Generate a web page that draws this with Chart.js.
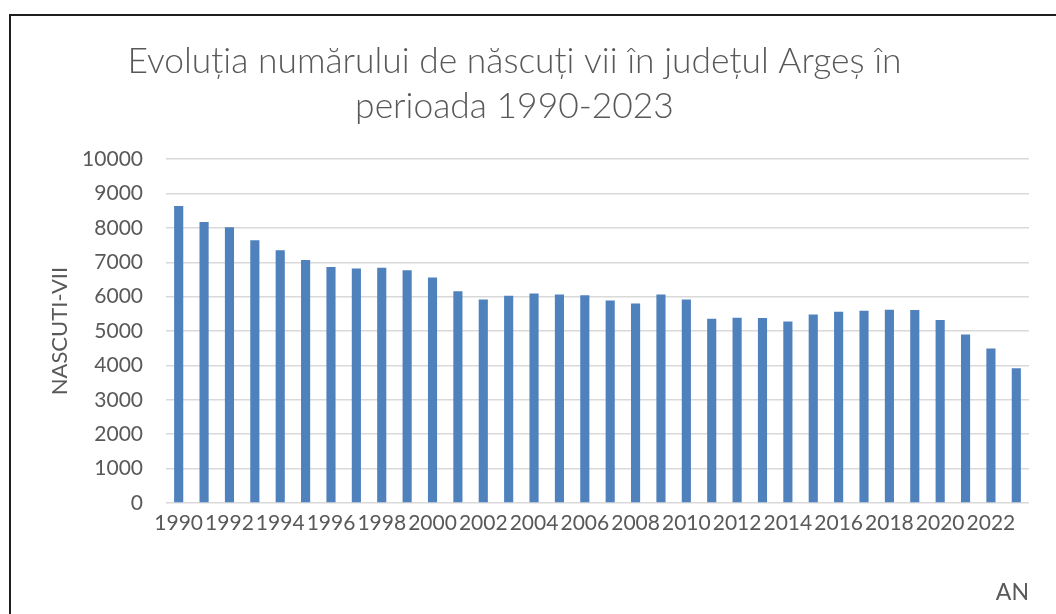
<!DOCTYPE html>
<html>
<head>
<meta charset="utf-8">
<script src="https://cdn.jsdelivr.net/npm/chart.js@4.4.1/dist/chart.umd.min.js"></script>
<style>
  html, body { margin: 0; padding: 0; background: #ffffff; }
  #wrap { position: relative; width: 1056px; height: 614px; overflow: hidden; }
  #frame { position: absolute; left: 9px; top: 14px; width: 1100px; height: 700px;
           border-left: 2px solid #1e1e1e; border-top: 2px solid #1e1e1e; }
  #c { position: absolute; left: 0; top: 0; }
</style>
</head>
<body>
<div id="wrap">
  <div id="frame"></div>
  <canvas id="c" width="1056" height="614"></canvas>
</div>
<script>
const years = [1990,1991,1992,1993,1994,1995,1996,1997,1998,1999,2000,2001,2002,2003,2004,2005,2006,2007,2008,2009,2010,2011,2012,2013,2014,2015,2016,2017,2018,2019,2020,2021,2022,2023];
const births = [8640,8170,8020,7640,7350,7070,6860,6820,6840,6770,6560,6160,5920,6030,6090,6060,6040,5890,5800,6060,5920,5360,5390,5380,5280,5480,5560,5590,5620,5610,5320,4900,4490,3920];
const titleLines = ['Evoluția numărului de născuți vii în județul Argeș în', 'perioada 1990-2023'];
const yTitle = 'NASCUTI-VII';
const xTitle = 'AN';

const textColor = '#595959';
const fontFamily = 'Lato, "Open Sans", sans-serif';

new Chart(document.getElementById('c'), {
  type: 'bar',
  data: {
    labels: years.map(String),
    datasets: [{
      data: births,
      backgroundColor: '#4F81BD',
      borderWidth: 0,
      barPercentage: 0.36,
      categoryPercentage: 1.0
    }]
  },
  options: {
    responsive: false,
    animation: false,
    layout: { padding: { left: 0, right: 27, top: 0, bottom: 8 } },
    plugins: {
      legend: { display: false },
      tooltip: { enabled: false },
      title: {
        display: true,
        text: titleLines,
        color: textColor,
        font: { family: fontFamily, size: 35.4, weight: '300', lineHeight: 1.245 },
        padding: { top: 40, bottom: 31 }
      }
    },
    scales: {
      x: {
        grid: { display: false, drawTicks: false },
        border: { display: false },
        ticks: {
          autoSkip: false,
          maxRotation: 0,
          minRotation: 0,
          padding: 8,
          color: textColor,
          font: { family: fontFamily, size: 21 },
          callback: function(value, index) { return index % 2 === 0 ? this.getLabelForValue(value) : ''; }
        },
        title: {
          display: true,
          text: xTitle,
          align: 'end',
          color: textColor,
          font: { family: fontFamily, size: 23 },
          padding: { top: 0, bottom: 0 }
        },
        afterFit: s => { s.height = 103; }
      },
      y: {
        min: 0,
        max: 10000,
        grid: { color: '#d9d9d9', lineWidth: 1.5, drawTicks: false },
        border: { display: false },
        ticks: {
          stepSize: 1000,
          padding: 23,
          color: textColor,
          font: { family: fontFamily, size: 21 },
          callback: v => String(v)
        },
        title: {
          display: true,
          text: yTitle,
          color: textColor,
          font: { family: fontFamily, size: 22 },
          padding: { top: 47, bottom: 0 }
        },
        afterFit: s => { s.width = 166; }
      }
    }
  }
});
</script>
</body>
</html>
